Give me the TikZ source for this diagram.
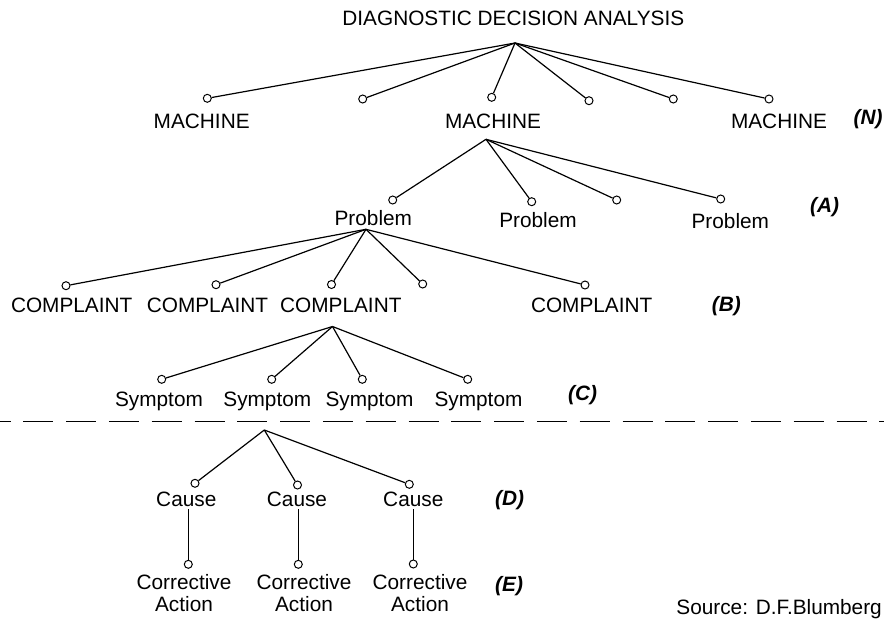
\documentclass[tikz,border=0pt]{standalone}
\usepackage{fontspec}
\setmainfont{Liberation Sans}

\tikzset{
  leaf/.style={circle, draw, fill=white, inner sep=0pt, minimum size=8pt, line width=1pt},
  lbl/.style={anchor=base, inner sep=3pt, align=center,
    font=\fontsize{20.8}{22.7}\selectfont},
  lvl/.style={anchor=base west, inner sep=0pt,
    font=\fontsize{20.8}{25}\selectfont\bfseries\itshape},
  branch/.style={line width=1.2pt},
}

\begin{document}
\begin{tikzpicture}[x=1pt,y=-1pt]
    \useasboundingbox (0,0) rectangle (884,619);

    % Top of the tree
    \node[lbl] (title) at (513.3,25) {DIAGNOSTIC DECISION ANALYSIS};
    \coordinate (root) at (515,43);

    % Machines (N)
    \node[leaf] (n1) at (207.3,98.3) {};
    \node[leaf] (n2) at (362.7,99) {};
    \node[leaf] (n3) at (491.7,97.3) {};
    \node[leaf] (n4) at (589,100.7) {};
    \node[leaf] (n5) at (673.3,99) {};
    \node[leaf] (n6) at (769,99) {};
    \foreach \i in {1,...,6}
        \draw[branch] (root) -- (n\i);
    \node[lbl] (mach1) at (201.7,128.3) {MACHINE};
    \node[lbl] (mach2) at (493,128.3) {MACHINE};
    \node[lbl] (mach3) at (779,128.3) {MACHINE};
    \node[lvl] (levN) at (853.5,124) {(N)};

    % Problems (A)
    \coordinate (apexA) at (486,139.3);
    \node[leaf] (a1) at (392.7,200) {};
    \node[leaf] (a2) at (531.7,201.7) {};
    \node[leaf] (a3) at (616.7,200) {};
    \node[leaf] (a4) at (720.7,199) {};
    \foreach \i in {1,...,4}
        \draw[branch] (apexA) -- (a\i);
    \node[lbl] (prob1) at (373.3,225) {Problem};
    \node[lbl] (prob2) at (538,227.7) {Problem};
    \node[lbl] (prob3) at (730.3,228) {Problem};
    \node[lvl] (levA) at (810,212) {(A)};

    % Complaints (B)
    \coordinate (apexB) at (366,229.3);
    \node[leaf] (b1) at (66,285.7) {};
    \node[leaf] (b2) at (216,284.7) {};
    \node[leaf] (b3) at (331.5,284.5) {};
    \node[leaf] (b4) at (422.7,284) {};
    \node[leaf] (b5) at (585,285) {};
    \foreach \i in {1,...,5}
        \draw[branch] (apexB) -- (b\i);
    \node[lbl] (comp1) at (71.7,312) {COMPLAINT};
    \node[lbl] (comp2) at (207.5,312) {COMPLAINT};
    \node[lbl] (comp3) at (340.8,312) {COMPLAINT};
    \node[lbl] (comp4) at (591.7,312) {COMPLAINT};
    \node[lvl] (levB) at (711.7,311) {(B)};

    % Symptoms (C)
    \coordinate (apexC) at (332.5,326.5);
    \node[leaf] (c1) at (161.7,379.3) {};
    \node[leaf] (c2) at (271.7,379.3) {};
    \node[leaf] (c3) at (362.3,379.3) {};
    \node[leaf] (c4) at (467.7,379.3) {};
    \foreach \i in {1,...,4}
        \draw[branch] (apexC) -- (c\i);
    \node[lbl] (sym1) at (159,406) {Symptom};
    \node[lbl] (sym2) at (267.3,406) {Symptom};
    \node[lbl] (sym3) at (369.5,406) {Symptom};
    \node[lbl] (sym4) at (478.5,406) {Symptom};
    \node[lvl] (levC) at (568,400) {(C)};

    % Divider
    \coordinate (divL) at (0,421.7);
    \coordinate (divR) at (884,421.7);
    \draw[line width=1.4pt, dash pattern=on 30pt off 12.8pt, dash phase=19.5pt] (divL) -- (divR);

    % Causes (D)
    \coordinate (apexD) at (264.3,430);
    \node[leaf] (d1) at (195,483.3) {};
    \node[leaf] (d2) at (297.5,485) {};
    \node[leaf] (d3) at (409.3,484.3) {};
    \foreach \i in {1,...,3}
        \draw[branch] (apexD) -- (d\i);
    \node[lbl] (cause1) at (186.3,506) {Cause};
    \node[lbl] (cause2) at (297,506) {Cause};
    \node[lbl] (cause3) at (413.3,506) {Cause};
    \node[lvl] (levD) at (495,505) {(D)};

    % Corrective actions (E)
    \node[leaf] (e1) at (188.3,564.3) {};
    \node[leaf] (e2) at (298.3,564.3) {};
    \node[leaf] (e3) at (413.3,564) {};
    \foreach \i in {1,...,3}
        \draw[branch] (e\i) -- (e\i |- cause\i.south);
    \node[lbl] (act1) at (184,611.7) {Corrective\\Action};
    \node[lbl] (act2) at (304,611.7) {Corrective\\Action};
    \node[lbl] (act3) at (420,611.7) {Corrective\\Action};
    \node[lvl] (levE) at (495,591) {(E)};

    % Source line
    \node[anchor=base east, inner sep=0pt, font=\fontsize{20.8}{25}\selectfont]
        (source) at (882,614.3) {Source: D.F.Blumberg};
\end{tikzpicture}
\end{document}
